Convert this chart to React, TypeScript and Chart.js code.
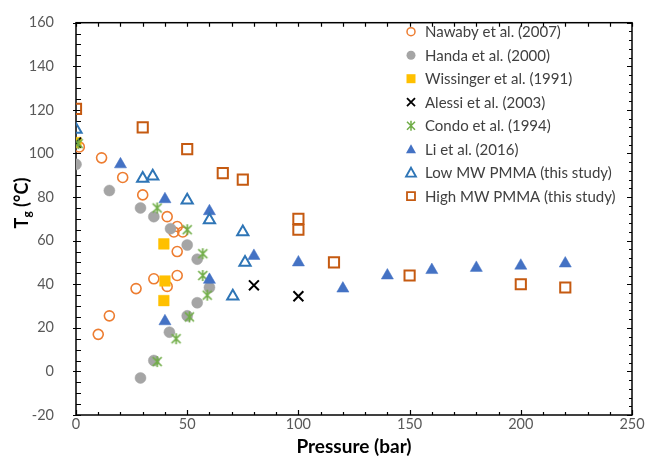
import React, { useEffect, useRef } from 'react';
import { Chart, registerables } from 'chart.js';

Chart.register(...registerables);

const FONT = 'Lato, "Liberation Sans", sans-serif';

// ---- data (Pressure in bar, Tg in °C) ----
const nawabyX = [1.5, 11.5, 21, 30, 41, 45.5, 44, 48, 45.5, 45.5, 41, 35, 27, 15, 10];
const nawabyY = [103, 98, 89, 81, 71, 66.5, 64, 64, 55, 44, 39, 42.5, 38, 25.5, 17];
const handaX = [0, 15, 29, 35, 42.5, 50, 54.5, 60, 54.5, 50, 42, 35, 29];
const handaY = [95, 83, 75, 71, 65.5, 58, 51.5, 38.5, 31.5, 25.5, 18, 5, -3];
const wissingerX = [0, 39.5, 40, 39.5];
const wissingerY = [105, 58.5, 41.5, 32.5];
const alessiX = [0, 80, 100];
const alessiY = [105, 39.5, 34.5];
const condoX = [1, 36.5, 50, 57, 57, 59, 51, 45, 36.5];
const condoY = [104.5, 75, 65, 54, 44, 35, 25, 15, 4.5];
const liX = [20, 40, 60, 80, 60, 40, 100, 120, 140, 160, 180, 200, 220];
const liY = [95, 79, 73.5, 53, 42, 23, 50, 38, 44, 46.5, 47.5, 48.5, 49.5];
const lowMwX = [0, 30, 34.5, 50, 60, 75, 76, 70.5];
const lowMwY = [111, 88.5, 89.5, 78.5, 69.5, 64, 50, 34.5];
const highMwX = [0, 30, 50, 66, 75, 100, 100, 116, 150, 200, 220];
const highMwY = [120.5, 112, 102, 91, 88, 70, 65, 50, 44, 40, 38.5];

const seriesLabels = [
  'Nawaby et al. (2007)',
  'Handa et al. (2000)',
  'Wissinger et al. (1991)',
  'Alessi et al. (2003)',
  'Condo et al. (1994)',
  'Li et al. (2016)',
  'Low MW PMMA (this study)',
  'High MW PMMA (this study)',
];

const xTickLabels = [0, 50, 100, 150, 200, 250];
const yTickLabels = [-20, 0, 20, 40, 60, 80, 100, 120, 140, 160];

type Marker = 'ocircle' | 'circle' | 'square' | 'cross' | 'star' | 'triangle' | 'otriangle' | 'osquare';
const markers: Marker[] = ['ocircle', 'circle', 'square', 'cross', 'star', 'triangle', 'otriangle', 'osquare'];
const colors = ['#ED7D31', '#A5A5A5', '#FFC000', '#000000', '#70AD47', '#4472C4', '#2E75B6', '#C55A11'];

function makeStar(color: string): HTMLCanvasElement {
  const c = document.createElement('canvas');
  c.width = 13;
  c.height = 13;
  const g = c.getContext('2d')!;
  g.strokeStyle = color;
  g.lineWidth = 1.7;
  g.beginPath();
  g.moveTo(2, 2); g.lineTo(11, 11);
  g.moveTo(11, 2); g.lineTo(2, 11);
  g.moveTo(6.5, 1); g.lineTo(6.5, 12);
  g.stroke();
  return c;
}

function drawMarker(ctx: CanvasRenderingContext2D, m: Marker, x: number, y: number, color: string) {
  ctx.save();
  ctx.strokeStyle = color;
  ctx.fillStyle = color;
  ctx.beginPath();
  if (m === 'ocircle') {
    ctx.lineWidth = 1.5;
    ctx.arc(x, y, 4, 0, Math.PI * 2);
    ctx.stroke();
  } else if (m === 'circle') {
    ctx.arc(x, y, 4.5, 0, Math.PI * 2);
    ctx.fill();
  } else if (m === 'square') {
    ctx.rect(x - 4.5, y - 4.5, 9, 9);
    ctx.fill();
  } else if (m === 'osquare') {
    ctx.lineWidth = 1.8;
    ctx.rect(x - 4, y - 4, 8, 8);
    ctx.stroke();
  } else if (m === 'cross') {
    ctx.lineWidth = 1.8;
    ctx.moveTo(x - 4, y - 4); ctx.lineTo(x + 4, y + 4);
    ctx.moveTo(x + 4, y - 4); ctx.lineTo(x - 4, y + 4);
    ctx.stroke();
  } else if (m === 'star') {
    ctx.lineWidth = 1.5;
    ctx.moveTo(x - 4, y - 4); ctx.lineTo(x + 4, y + 4);
    ctx.moveTo(x + 4, y - 4); ctx.lineTo(x - 4, y + 4);
    ctx.moveTo(x, y - 5); ctx.lineTo(x, y + 5);
    ctx.stroke();
  } else if (m === 'triangle' || m === 'otriangle') {
    ctx.moveTo(x, y - 5);
    ctx.lineTo(x + 5, y + 4);
    ctx.lineTo(x - 5, y + 4);
    ctx.closePath();
    if (m === 'triangle') ctx.fill();
    else { ctx.lineWidth = 1.8; ctx.stroke(); }
  }
  ctx.restore();
}

export default function App() {
  const ref = useRef<HTMLCanvasElement>(null);

  useEffect(() => {
    document.body.style.margin = '0';
    const star = makeStar(colors[4]);
    const pts = (xs: number[], ys: number[]) => xs.map((x, i) => ({ x, y: ys[i] }));
    const xs = [nawabyX, handaX, wissingerX, alessiX, condoX, liX, lowMwX, highMwX];
    const ys = [nawabyY, handaY, wissingerY, alessiY, condoY, liY, lowMwY, highMwY];

    const style = (m: Marker, c: string): any => {
      switch (m) {
        case 'ocircle': return { pointStyle: 'circle', pointRadius: 5, pointBackgroundColor: 'rgba(0,0,0,0)', pointBorderColor: c, pointBorderWidth: 1.6 };
        case 'circle': return { pointStyle: 'circle', pointRadius: 5.5, pointBackgroundColor: c, pointBorderColor: c, pointBorderWidth: 0.5 };
        case 'square': return { pointStyle: 'rect', pointRadius: 7.5, pointBackgroundColor: c, pointBorderColor: c, pointBorderWidth: 0.5 };
        case 'cross': return { pointStyle: 'crossRot', pointRadius: 7, pointBorderColor: c, pointBorderWidth: 2 };
        case 'star': return { pointStyle: star, pointRadius: 6.5 };
        case 'triangle': return { pointStyle: 'triangle', pointRadius: 7, pointBackgroundColor: c, pointBorderColor: c, pointBorderWidth: 0.5 };
        case 'otriangle': return { pointStyle: 'triangle', pointRadius: 6.5, pointBackgroundColor: 'rgba(0,0,0,0)', pointBorderColor: c, pointBorderWidth: 2 };
        case 'osquare': return { pointStyle: 'rect', pointRadius: 7.2, pointBackgroundColor: 'rgba(255,255,255,0)', pointBorderColor: c, pointBorderWidth: 2 };
      }
    };

    const datasets = seriesLabels.map((label, i) => {
      const s = style(markers[i], colors[i]);
      return {
        label,
        data: pts(xs[i], ys[i]),
        showLine: false,
        order: seriesLabels.length - i,
        ...s,
        pointHoverRadius: s.pointRadius,
      };
    });

    const framePlugin = {
      id: 'frame',
      beforeDatasetsDraw(chart: any) {
        const { ctx, chartArea: a, scales } = chart;
        const sx = scales.x, sy = scales.y;
        ctx.save();
        ctx.strokeStyle = '#000';
        ctx.lineWidth = 1.5;
        ctx.strokeRect(a.left, a.top, a.right - a.left, a.bottom - a.top);
        ctx.lineWidth = 1.2;
        ctx.beginPath();
        // left axis: every 5, major every 20 crossing
        for (let v = -20; v <= 160; v += 5) {
          const py = Math.round(sy.getPixelForValue(v)) + 0.5;
          const major = (v + 20) % 20 === 0;
          ctx.moveTo(a.left - (major ? 3 : 0), py);
          ctx.lineTo(a.left + 5, py);
        }
        // right axis: every 4, major every 20
        for (let v = -20; v <= 160; v += 4) {
          const py = Math.round(sy.getPixelForValue(v)) + 0.5;
          const major = (v + 20) % 20 === 0;
          ctx.moveTo(a.right, py);
          ctx.lineTo(a.right - (major ? 5 : 3), py);
        }
        // bottom & top: every 10, major every 50
        for (let v = 0; v <= 250; v += 10) {
          const px = Math.round(sx.getPixelForValue(v)) + 0.5;
          const major = v % 50 === 0;
          ctx.moveTo(px, a.bottom);
          ctx.lineTo(px, a.bottom - (major ? 5 : 3));
          ctx.moveTo(px, a.top);
          ctx.lineTo(px, a.top + 4);
        }
        ctx.stroke();

        // axis titles
        ctx.fillStyle = '#000';
        ctx.font = `bold 19px ${FONT}`;
        ctx.textAlign = 'center';
        ctx.textBaseline = 'middle';
        ctx.fillText('Pressure (bar)', 354, 447);

        ctx.translate(22, 203);
        ctx.rotate(-Math.PI / 2);
        const f1 = `bold 18px ${FONT}`;
        const f2 = `bold 12px ${FONT}`;
        ctx.font = f1; const wT = ctx.measureText('T').width;
        ctx.font = f2; const wg = ctx.measureText('g').width;
        ctx.font = f1; const wR = ctx.measureText(' (°C)').width;
        let x0 = -(wT + wg + wR) / 2;
        ctx.textAlign = 'left';
        ctx.textBaseline = 'alphabetic';
        ctx.font = f1; ctx.fillText('T', x0, 6); x0 += wT;
        ctx.font = f2; ctx.fillText('g', x0, 9); x0 += wg;
        ctx.font = f1; ctx.fillText(' (°C)', x0, 6);
        ctx.restore();
      },
      afterDatasetsDraw(chart: any) {
        const { ctx } = chart;
        ctx.save();
        ctx.font = `15px ${FONT}`;
        ctx.fillStyle = '#404040';
        ctx.textAlign = 'left';
        ctx.textBaseline = 'middle';
        seriesLabels.forEach((label, i) => {
          const y = 31.7 + i * 23.5;
          drawMarker(ctx, markers[i], 411, y, colors[i]);
          ctx.fillText(label, 425, y + 0.5);
        });
        ctx.restore();
      },
    };

    const tickFont = { family: FONT, size: 14.5 };
    const chart = new Chart(ref.current!, {
      type: 'scatter',
      data: { datasets: datasets as any },
      options: {
        animation: false,
        responsive: false,
        events: [],
        layout: { padding: { top: 16, right: 15, left: 0, bottom: 0 } },
        plugins: { legend: { display: false }, tooltip: { enabled: false } },
        scales: {
          x: {
            type: 'linear',
            min: 0,
            max: 250,
            grid: { display: false },
            border: { display: false },
            afterBuildTicks: (s: any) => { s.ticks = xTickLabels.map((v) => ({ value: v })); },
            afterFit: (s: any) => { s.height = 48; },
            ticks: { font: tickFont, color: '#595959', padding: -7, maxRotation: 0, autoSkip: false },
          },
          y: {
            type: 'linear',
            min: -20,
            max: 160,
            grid: { display: false },
            border: { display: false },
            afterBuildTicks: (s: any) => { s.ticks = yTickLabels.map((v) => ({ value: v })); },
            afterFit: (s: any) => { s.width = 76; },
            ticks: { font: tickFont, color: '#595959', padding: 14, autoSkip: false },
          },
        },
      },
      plugins: [framePlugin],
    });
    return () => chart.destroy();
  }, []);

  return (
    <div style={{ position: 'fixed', left: 0, top: 0, width: 647, height: 463, background: '#fff' }}>
      <canvas ref={ref} width={647} height={463} style={{ width: 647, height: 463, display: 'block' }} />
    </div>
  );
}
